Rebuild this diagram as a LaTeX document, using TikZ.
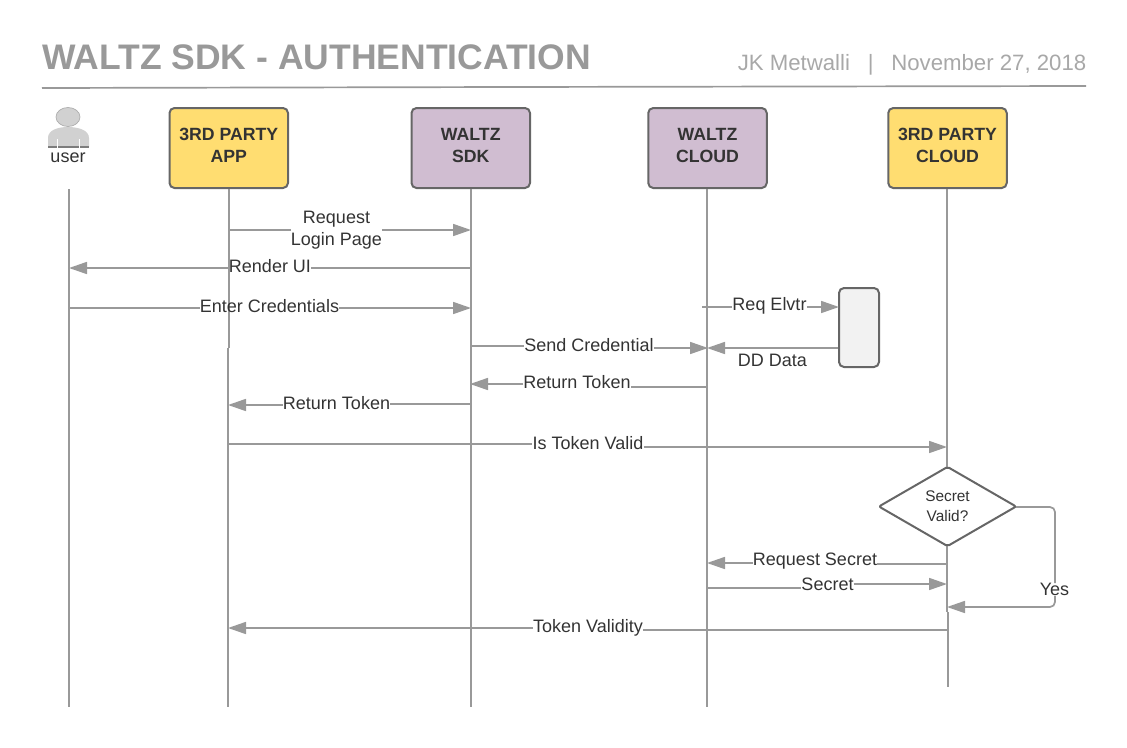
\documentclass[tikz,border=0pt]{standalone}
\usepackage{fontspec}
\setmainfont{Liberation Sans}
\usetikzlibrary{arrows.meta,shapes.geometric}
\definecolor{wire}{HTML}{999999}
\definecolor{edge}{HTML}{666666}
\definecolor{ink}{HTML}{333333}
\definecolor{yel}{HTML}{FFDD71}
\definecolor{pur}{HTML}{D0BDD1}
\newcommand{\liftup}{\rule[-5pt]{0pt}{0pt}}
\tikzset{
  wireline/.style={draw=wire,line width=1.7pt},
  arrowline/.style={wireline,-{Triangle[length=18pt,width=12pt,fill=wire]},shorten >=-1pt},
  lane/.style={draw=edge,fill=#1,line width=2pt,rounded corners=5pt,minimum width=118.5pt,minimum height=80pt,inner sep=0pt,align=center,text=ink,font=\fontsize{17.7}{22}\selectfont\bfseries},
  lbl/.style={text=ink,inner xsep=0pt,inner ysep=0pt,yshift=-1.5pt,align=center,font=\fontsize{18}{22}\selectfont},
}
\begin{document}
\begin{tikzpicture}[x=1pt,y=-1pt]
\useasboundingbox (0,0) rectangle (1127,747);
% title
\node[anchor=base west,inner sep=0pt,text=wire,font=\fontsize{35.5}{40}\selectfont\bfseries] (title) at (42,69) {WALTZ SDK - AUTHENTICATION};
\node[anchor=base east,inner sep=0pt,text=wire!85,font=\fontsize{22.2}{28}\selectfont] (byline) at (1086.5,70) {JK Metwalli\hspace{0.8em}|\hspace{0.8em}November 27, 2018};
\coordinate (ruleA) at (42,88); \coordinate (ruleB) at (510,87); \coordinate (ruleC) at (1086,86);
\draw[wireline] (ruleA) -- (ruleB) -- (ruleC);
% user
\fill[fill=black!18] (48,147) -- (48,138) .. controls (48,130) and (58,127) .. (68,127) .. controls (78,127) and (89,130) .. (89,138) -- (89,147) -- cycle;
\fill[fill=edge!85] (48,146) rectangle (89,148);
\draw[white,line width=0.8pt] (57,139) -- (57,148) (79,139) -- (79,148);
\filldraw[fill=black!18,draw=black!32,line width=0.7pt] (68,117) ellipse (12 and 9.5);
\node[lbl] (user) at (68,156) {user};
% lane heads
\node[lane=yel] (app) at (228.75,148) {3RD PARTY\\APP\liftup};
\node[lane=pur] (sdk) at (470.75,148) {WALTZ\\SDK\liftup};
\node[lane=pur] (wcloud) at (707.5,148) {WALTZ\\CLOUD\liftup};
\node[lane=yel] (tcloud) at (947.5,148) {3RD PARTY\\CLOUD\liftup};
\node[draw=edge,fill=black!5,line width=2pt,rounded corners=5pt,minimum width=40pt,minimum height=79pt,inner sep=0pt] (store) at (859,327.5) {};
% lifeline ends
\coordinate (userT) at (69,189); \coordinate (userB) at (69,707);
\coordinate (appJ1) at (229,348); \coordinate (appJ2) at (228,348); \coordinate (appB) at (228,707);
\coordinate (sdkB) at (471,707); \coordinate (wcB) at (707,707);
\coordinate (tcT) at (947,188); \coordinate (tcD) at (947,507); \coordinate (tcJ1) at (947,612); \coordinate (tcJ2) at (948,612); \coordinate (tcB) at (948,687);
\coordinate (yA) at (1055,507); \coordinate (yB) at (1055,607); \coordinate (yC) at (948,607);
\draw[wireline] (userT) -- (userB);
\draw[wireline] (app.south -| appJ1) -- (appJ1);
\draw[wireline] (appJ2) -- (appB);
\draw[wireline] (sdk.south -| sdkB) -- (sdkB);
\draw[wireline] (wcloud.south -| wcB) -- (wcB);
\draw[wireline] (tcloud.south -| tcT) -- (tcJ1);
\draw[wireline] (tcJ2) -- (tcB);
% yes loop
\node[lbl] (yes) at (1054.5,588) {Yes};
\draw[wireline,rounded corners=5pt] (tcD) -- (yA) -- (yes.north -| yA);
\draw[arrowline,rounded corners=5pt] (yes.south -| yA) -- (yB) -- (yC);
% decision drawn over the lifeline and the loop's start
\node[diamond,draw=edge,fill=white,line width=2pt,line join=round,rounded corners=2pt,shape aspect=1.73,minimum width=138pt,minimum height=80pt,inner sep=0pt,align=center,text=ink,font=\fontsize{15.4}{20}\selectfont] (valid) at (947.5,506.5) {Secret\\Valid?};
% messages
\coordinate (m1a) at (229,230); \coordinate (m1b) at (470,230);
\node[lbl] (l1) at (336.5,228.7) {Request\\Login Page};
\draw[wireline] (m1a) -- (m1a -| l1.west);
\draw[arrowline] (m1b -| l1.east) -- (m1b);
\coordinate (m2a) at (470,268); \coordinate (m2b) at (70,268);
\node[lbl] (l2) at (270,265) {Render UI};
\draw[wireline] (m2a) -- (m2a -| l2.east);
\draw[arrowline] (m2b -| l2.west) -- (m2b);
\coordinate (m3a) at (69,308); \coordinate (m3b) at (470,308);
\node[lbl] (l3) at (269.5,305) {Enter Credentials};
\draw[wireline] (m3a) -- (m3a -| l3.west);
\draw[arrowline] (m3b -| l3.east) -- (m3b);
\coordinate (m4a) at (471,346); \coordinate (m4b) at (707,348);
\node[lbl] (l4) at (589,344) {Send Credential};
\draw[wireline] (m4a) -- (m4a -| l4.west);
\draw[arrowline] (m4b -| l4.east) -- (m4b);
\coordinate (m5a) at (707,387); \coordinate (m5b) at (471,384);
\node[lbl] (l5) at (577,381) {Return Token};
\draw[wireline] (m5a) -- (m5a -| l5.east);
\draw[arrowline] (m5b -| l5.west) -- (m5b);
\coordinate (m6a) at (471,404); \coordinate (m6b) at (229,405);
\node[lbl] (l6) at (336.5,402) {Return Token};
\draw[wireline] (m6a) -- (m6a -| l6.east);
\draw[arrowline] (m6b -| l6.west) -- (m6b);
\coordinate (m7a) at (228,444); \coordinate (m7b) at (946,447);
\node[lbl] (l7) at (588,442) {Is Token Valid};
\draw[wireline] (m7a) -- (m7a -| l7.west);
\draw[arrowline] (m7b -| l7.east) -- (m7b);
\coordinate (m8a) at (702,307); \coordinate (m8b) at (838,307);
\node[lbl] (l8) at (769.5,304) {Req Elvtr};
\draw[wireline] (m8a) -- (m8a -| l8.west);
\draw[arrowline] (m8b -| l8.east) -- (m8b);
\coordinate (m9b) at (708,348);
\node[lbl] (l9) at (772.5,359) {DD Data};
\draw[arrowline] (store.west |- m9b) -- (m9b);
\coordinate (m10a) at (947,564); \coordinate (m10b) at (708,563);
\node[lbl] (l10) at (815,560) {Request Secret};
\draw[wireline] (m10a) -- (m10a -| l10.east);
\draw[arrowline] (m10b -| l10.west) -- (m10b);
\coordinate (m11a) at (707,588); \coordinate (m11b) at (946,584);
\node[lbl] (l11) at (827.5,583) {Secret};
\draw[wireline] (m11a) -- (m11a -| l11.west);
\draw[arrowline] (m11b -| l11.east) -- (m11b);
\coordinate (m12a) at (947,630); \coordinate (m12b) at (229,628);
\node[lbl] (l12) at (588,626) {Token Validity};
\draw[wireline] (m12a) -- (m12a -| l12.east);
\draw[arrowline] (m12b -| l12.west) -- (m12b);
\end{tikzpicture}
\end{document}
